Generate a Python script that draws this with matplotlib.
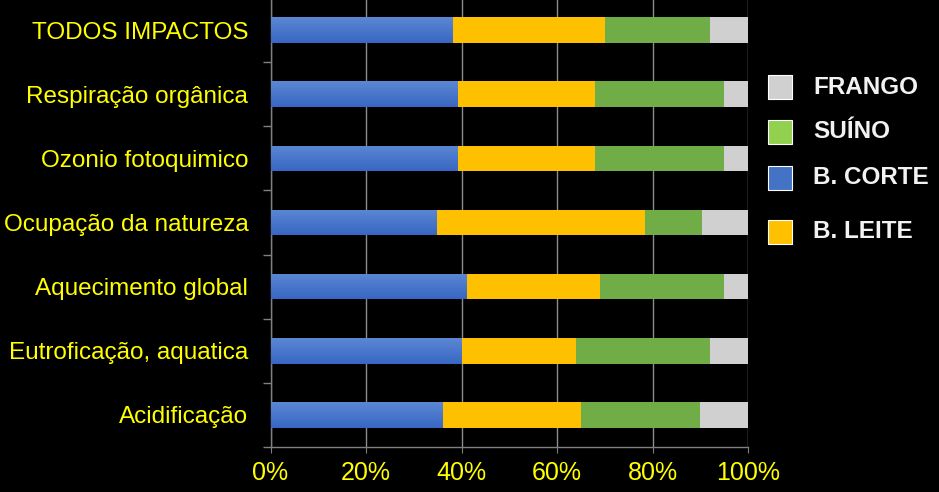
import matplotlib
matplotlib.use("Agg")
import matplotlib.pyplot as plt
import numpy as np
from matplotlib.patches import Rectangle
from matplotlib.ticker import PercentFormatter, FixedLocator
from matplotlib.colors import LinearSegmentedColormap

plt.rcParams['font.family'] = ['Liberation Sans', 'DejaVu Sans']

categories = ["TODOS IMPACTOS", "Respiração orgânica", "Ozonio fotoquimico",
              "Ocupação da natureza", "Aquecimento global",
              "Eutroficação, aquatica", "Acidificação"]
b_corte = [38, 39, 39, 34.7, 41, 40, 36]
b_leite = [32, 29, 29, 43.7, 28, 24, 29]
suino = [22, 27, 27, 12, 26, 28, 25]
frango = [8, 5, 5, 9.6, 5, 8, 10]

series_names = ["B. CORTE", "B. LEITE", "SUÍNO", "FRANGO"]
bar_colors = ["#4472C4", "#FFC000", "#70AD47", "#D0D0D0"]
legend_names = ["FRANGO", "SUÍNO", "B. CORTE", "B. LEITE"]
legend_colors = ["#D0D0D0", "#92D050", "#4472C4", "#FFC000"]
xticks = [0, 20, 40, 60, 80, 100]

fig = plt.figure(figsize=(9.39, 4.92), dpi=100, facecolor="black")
ax = fig.add_axes([270.5/939, 45/492, 477.5/939, 449/492], facecolor="black")

y = np.arange(len(categories))
left = np.zeros(len(categories))
bh = 0.40
cmap = LinearSegmentedColormap.from_list("g", ["#5B87D3", "#3867C3"])
for vals, col in zip([b_corte, b_leite, suino, frango], bar_colors):
    vals = np.array(vals, dtype=float)
    bars = ax.barh(y, vals, left=left, height=bh, color=col, zorder=3, linewidth=0)
    if col == "#4472C4":
        grad = np.linspace(0, 1, 64).reshape(-1, 1)
        for b in bars:
            x0, y0 = b.get_x(), b.get_y()
            w, h = b.get_width(), b.get_height()
            im = ax.imshow(grad, extent=[x0, x0 + w, y0 + h, y0], cmap=cmap,
                           aspect='auto', zorder=3.5, origin='upper')
            im.set_clip_path(b)
    left += vals

ax.set_xlim(0, 100)
ax.set_ylim(len(categories) - 0.5, -0.5)
ax.set_xticks(xticks)
ax.xaxis.set_major_formatter(PercentFormatter(decimals=0))
ax.set_yticks(y)
ax.set_yticklabels(categories)
ax.yaxis.set_minor_locator(FixedLocator(np.arange(-0.5, len(categories), 1.0)))
ax.tick_params(axis='y', which='major', length=0, pad=16, labelsize=17.5, labelcolor="#FFFF00")
ax.tick_params(axis='y', which='minor', length=5.5, color="#808080", width=1)
ax.tick_params(axis='x', which='major', length=4.5, color="#808080", labelsize=18,
               labelcolor="#FFFF00", pad=5.5)
ax.grid(axis='x', color="#8C8C8C", linewidth=1, zorder=0)
for s in ["top", "right"]:
    ax.spines[s].set_visible(False)
for s in ["left", "bottom"]:
    ax.spines[s].set_color("#808080")
    ax.spines[s].set_linewidth(1)

# legend
leg_y = [87, 132, 178, 232]
for name, col, yy in zip(legend_names, legend_colors, leg_y):
    fig.add_artist(Rectangle((768/939, (492 - yy - 12)/492), 24/939, 24/492,
                             transform=fig.transFigure, facecolor=col,
                             edgecolor="white", linewidth=0.8))
    fig.text(813/939, (492 - yy)/492, name, color="#F2F2F2", fontsize=17.5,
             fontweight="bold", va="center", ha="left")

fig.savefig("out.png", dpi=100, facecolor="black")
